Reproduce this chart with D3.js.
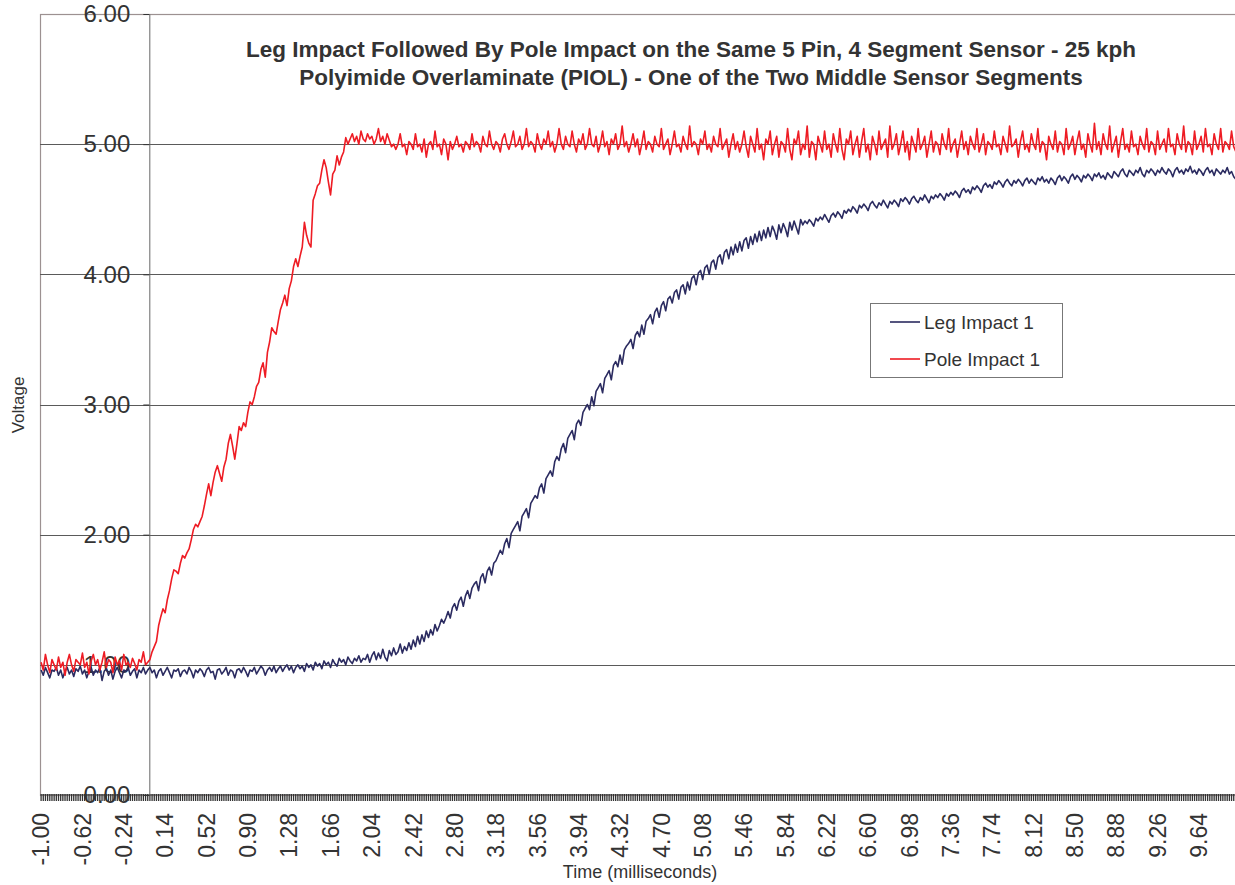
<!DOCTYPE html>
<html>
<head>
<meta charset="utf-8">
<title>Leg Impact Followed By Pole Impact</title>
<script src="https://d3js.org/d3.v7.min.js"></script>
<style>
    body { margin: 0; background: #fff; }
    svg { display: block; font-family: "Liberation Sans", Arial, sans-serif; }
</style>
</head>
<body>
<svg id="chart"></svg>
<script>
// x axis labels (every 19th category, 0.02 ms steps)
const tickLabels = ["-1.00","-0.62","-0.24","0.14","0.52","0.90","1.28","1.66","2.04","2.42",
    "2.80","3.18","3.56","3.94","4.32","4.70","5.08","5.46","5.84","6.22","6.60","6.98",
    "7.36","7.74","8.12","8.50","8.88","9.26","9.64"];
const yTicks = [0, 1, 2, 3, 4, 5, 6];
const seriesNames = ["Leg Impact 1", "Pole Impact 1"];

const legImpact = [
0.96,0.92,0.98,0.94,0.90,0.96,0.95,0.98,0.92,0.96,0.90,0.95,0.98,0.93,0.96,0.91,0.97,0.95,0.99,0.93,
0.96,0.90,0.95,0.98,0.92,0.96,0.94,0.98,0.88,0.95,0.97,0.92,0.96,0.89,0.95,0.98,0.94,0.90,0.96,0.95,
0.98,0.92,0.95,0.97,0.90,0.96,0.94,0.98,0.93,0.96,
0.98,0.94,0.96,0.90,0.95,0.97,0.92,0.95,0.98,0.94,0.90,0.96,0.95,0.97,0.91,0.95,0.96,0.93,0.98,0.95,
0.90,0.96,0.94,0.97,0.95,0.91,0.96,0.98,0.94,0.95,0.89,0.96,0.97,0.93,0.95,0.98,0.92,0.96,0.95,0.90,
0.96,0.97,0.94,0.98,0.95,0.91,0.96,0.95,0.98,0.93,0.96,0.99,0.97,0.92,0.96,0.98,0.95,0.99,0.94,0.97,
0.99,0.95,0.98,1.00,0.96,0.99,0.94,0.98,1.00,0.97,0.99,0.95,1.01,0.98,1.00,0.96,1.02,0.99,1.01,0.97,
1.03,1.00,1.02,0.98,1.04,1.01,0.99,1.05,1.02,1.04,1.00,1.06,1.03,1.01,1.05,1.03,1.07,1.02,1.05,1.04,
1.08,1.02,1.07,1.10,1.04,1.09,1.05,1.12,1.06,1.03,1.11,1.07,1.13,1.08,1.10,1.16,1.09,1.14,1.11,1.17,
1.12,1.19,1.14,1.22,1.16,1.23,1.18,1.26,1.21,1.27,1.23,1.31,1.26,1.30,1.35,1.32,1.36,1.41,1.36,1.44,
1.47,1.42,1.49,1.52,1.45,1.53,1.57,1.51,1.59,1.62,1.64,1.57,1.67,1.70,1.63,1.72,1.75,1.69,1.78,1.80,
1.84,1.88,1.85,1.93,1.97,1.90,2.01,2.04,2.07,2.10,2.03,2.14,2.17,2.20,2.13,2.24,2.27,2.30,2.28,2.36,
2.39,2.32,2.43,2.46,2.49,2.45,2.56,2.60,2.57,2.66,2.70,2.63,2.74,2.77,2.80,2.73,2.85,2.88,2.84,2.94,
2.97,3.00,2.96,3.06,2.99,3.10,3.13,3.16,3.09,3.20,3.23,3.26,3.19,3.30,3.33,3.29,3.38,3.31,3.42,3.45,
3.47,3.50,3.43,3.53,3.56,3.52,3.61,3.54,3.64,3.66,3.69,3.62,3.71,3.74,3.67,3.76,3.79,3.72,3.81,3.83,
3.78,3.86,3.88,3.81,3.90,3.92,3.85,3.94,3.88,3.97,3.99,3.92,4.01,4.03,3.96,4.05,4.07,4.00,4.09,4.11,
4.04,4.13,4.15,4.08,4.17,4.19,4.12,4.21,4.15,4.23,4.17,4.25,4.18,4.26,4.28,4.20,4.29,4.23,4.31,4.25,
4.33,4.26,4.34,4.28,4.36,4.29,4.37,4.33,4.27,4.38,4.32,4.39,4.35,4.29,4.40,4.34,4.41,4.36,4.31,4.42,
4.38,4.41,4.39,4.42,4.40,4.37,4.43,4.41,4.44,4.42,4.46,4.43,4.40,4.45,4.47,4.44,4.48,4.46,4.43,4.49,
4.47,4.50,4.48,4.52,4.50,4.47,4.53,4.51,4.54,4.52,4.49,4.54,4.56,4.53,4.51,4.55,4.53,4.57,4.54,4.51,
4.56,4.54,4.57,4.55,4.52,4.58,4.56,4.59,4.57,4.54,4.58,4.60,4.57,4.55,4.59,4.57,4.61,4.58,4.55,4.60,
4.58,4.61,4.59,4.62,4.60,4.57,4.62,4.60,4.63,4.61,4.64,4.62,4.59,4.64,4.66,4.63,4.65,4.62,4.67,4.65,
4.68,4.66,4.63,4.68,4.70,4.67,4.69,4.66,4.71,4.69,4.72,4.70,4.67,4.71,4.73,4.70,4.68,4.72,4.70,4.73,
4.71,4.68,4.72,4.74,4.70,4.73,4.71,4.69,4.74,4.72,4.75,4.71,4.73,4.70,4.74,4.72,4.69,4.74,4.76,4.72,
4.75,4.73,4.70,4.75,4.77,4.73,4.76,4.74,4.71,4.76,4.74,4.77,4.75,4.72,4.77,4.75,4.78,4.74,4.76,4.73,
4.78,4.76,4.74,4.79,4.77,4.75,4.79,4.81,4.77,4.75,4.80,4.78,4.76,4.80,4.78,4.82,4.77,4.75,4.80,4.78,
4.81,4.79,4.76,4.80,4.78,4.82,4.79,4.77,4.81,4.79,4.75,4.80,4.82,4.78,4.80,4.77,4.81,4.79,4.83,4.78,
4.80,4.77,4.81,4.79,4.76,4.80,4.82,4.78,4.80,4.76,4.81,4.79,4.77,4.80,4.78,4.82,4.77,4.79,4.75,4.73
];

const poleImpact = [
1.02,0.96,1.08,1.00,0.94,1.04,1.00,0.96,1.06,0.98,1.02,0.92,1.02,1.08,1.00,0.95,1.04,1.02,1.00,1.09,
0.98,1.02,0.93,1.03,1.08,1.00,1.04,0.96,1.02,1.10,0.98,1.04,1.02,0.94,1.06,1.00,1.03,0.96,1.08,1.00,
1.02,0.98,1.05,1.01,0.96,1.04,1.02,1.10,1.00,1.02,1.04,1.10,1.14,1.18,1.30,1.37,1.43,1.40,1.50,1.57,
1.66,1.73,1.72,1.70,1.78,1.84,1.82,1.86,1.89,1.96,2.04,2.08,2.06,2.10,2.14,2.22,2.31,2.39,2.30,2.40,
2.48,2.53,2.47,2.41,2.52,2.58,2.70,2.77,2.68,2.58,2.70,2.83,2.80,2.86,2.83,2.94,3.02,3.00,3.06,3.14,
3.17,3.27,3.32,3.21,3.40,3.48,3.59,3.56,3.54,3.64,3.73,3.78,3.84,3.76,3.89,3.95,4.06,4.12,4.06,4.14,
4.21,4.40,4.30,4.24,4.21,4.57,4.62,4.68,4.70,4.80,4.88,4.82,4.71,4.61,4.77,4.80,4.91,4.84,4.90,4.94,
5.05,5.00,
5.04,5.08,5.02,5.06,5.00,5.10,5.04,5.02,5.08,5.04,5.06,5.00,5.04,5.12,5.02,5.06,5.00,5.08,5.03,4.98,
5.00,4.96,5.00,5.08,4.98,5.00,4.92,5.02,5.00,4.96,5.08,4.98,5.00,4.94,5.04,4.90,5.00,5.02,4.96,5.10,
4.98,5.00,4.92,5.04,5.00,4.88,5.02,4.96,5.00,5.06,4.98,5.00,4.94,5.02,5.00,4.96,5.08,4.98,5.02,5.00,
4.94,5.06,5.00,4.98,5.10,5.00,4.96,5.02,5.00,4.94,5.04,5.08,5.00,4.96,5.02,5.10,4.98,5.00,5.06,4.96,
5.00,5.12,4.98,5.02,5.00,4.94,5.08,5.00,4.96,5.04,5.00,5.10,4.98,5.02,4.94,5.00,5.12,5.00,4.96,5.06,
5.00,4.98,5.10,5.00,4.94,5.04,5.00,5.08,4.96,5.00,5.12,5.00,4.98,5.06,4.94,5.00,5.10,4.98,5.02,4.92,
5.04,5.00,5.08,4.96,5.00,5.14,4.98,5.02,4.94,5.00,5.08,4.98,5.04,4.92,5.00,5.10,4.96,5.02,5.00,4.94,
5.06,5.00,4.98,5.12,4.96,5.00,5.04,4.92,5.00,5.10,4.98,5.00,4.94,5.06,5.00,4.96,5.14,4.98,5.02,5.00,
4.92,5.04,5.00,5.10,4.96,5.00,4.94,5.06,5.00,4.98,5.12,4.96,5.00,5.04,4.90,5.00,5.08,4.96,5.02,4.94,
5.00,5.10,4.98,4.90,5.06,5.00,4.94,5.12,4.96,5.00,4.88,5.04,5.00,5.10,4.92,5.00,5.06,4.90,5.02,5.00,
4.94,5.12,4.96,4.88,5.04,5.00,5.10,4.92,5.00,4.96,5.14,4.90,5.02,5.00,4.88,5.06,5.00,4.94,5.10,4.96,
5.00,4.90,5.08,5.00,4.94,5.12,4.96,4.88,5.04,5.00,5.10,4.92,5.00,5.06,4.90,5.02,5.12,4.94,5.00,4.88,
5.06,5.00,4.92,5.10,4.96,5.00,5.04,4.90,5.14,4.96,5.00,5.08,4.92,5.00,5.10,4.94,5.02,4.88,5.06,5.00,
4.94,5.12,4.96,5.00,5.06,4.90,5.00,5.10,4.94,5.02,5.00,4.92,5.08,5.00,4.96,5.12,4.94,5.00,5.04,4.90,
5.00,5.10,4.96,5.02,4.92,5.06,5.00,4.96,5.12,4.94,5.00,5.08,4.92,5.02,5.00,4.96,5.10,4.98,5.00,4.92,
5.06,5.00,4.94,5.14,4.98,5.00,5.04,4.90,5.02,5.10,4.96,5.00,4.94,5.08,5.00,4.96,5.12,4.94,5.02,5.00,
4.88,5.06,5.00,4.96,5.10,4.94,5.02,5.00,4.92,5.12,4.96,5.00,5.06,4.92,5.02,5.10,4.96,5.00,4.90,5.08,
5.00,4.94,5.16,4.96,5.02,4.92,5.08,5.00,4.96,5.14,4.94,5.00,5.06,4.90,5.02,5.12,4.96,5.00,4.94,5.10,
4.98,5.00,4.92,5.06,5.00,4.96,5.12,4.94,5.02,5.00,4.92,5.10,4.96,5.00,5.04,4.94,5.12,4.98,5.00,4.92,
5.08,5.00,4.96,5.14,4.94,5.02,5.00,4.92,5.10,4.96,5.00,5.06,4.94,5.12,4.98,5.00,4.92,5.08,5.00,4.96,
5.12,4.94,5.02,5.00,4.96,5.10,4.98,4.94
];

const width = 1235, height = 885;
const plot = { left: 40, right: 1237, top: 14, bottom: 795 };

// category labels: time in ms, 0.02 ms apart starting at -1.00
const n = Math.max(legImpact.length, poleImpact.length);
const times = d3.range(n).map(i => ((i * 2 - 100) / 100).toFixed(2));

const svg = d3.select("#chart")
    .attr("width", width)
    .attr("height", height);

const x = d3.scaleBand()
    .domain(times)
    .range([plot.left, plot.right]);

const y = d3.scaleLinear()
    .domain([0, 6])
    .range([plot.bottom, plot.top]);

// plot frame
svg.append("rect")
    .attr("x", plot.left + 0.5)
    .attr("y", plot.top + 0.5)
    .attr("width", plot.right - plot.left)
    .attr("height", plot.bottom - plot.top)
    .attr("fill", "none")
    .attr("stroke", "#9c9191")
    .attr("stroke-width", 1.2);

// gridlines
svg.append("g")
    .selectAll("line")
    .data(yTicks.filter(d => d > 0 && d < 6))
    .enter()
    .append("line")
    .attr("x1", plot.left)
    .attr("x2", plot.right)
    .attr("y1", d => Math.round(y(d)) + 0.5)
    .attr("y2", d => Math.round(y(d)) + 0.5)
    .attr("stroke", "#5a5a5a")
    .attr("stroke-width", 1);

// dense category tick marks along the bottom
const xAxis = svg.append("g")
    .attr("transform", `translate(0, ${plot.bottom - 1})`)
    .call(d3.axisBottom(x).tickSize(7).tickSizeOuter(0).tickFormat(""));
xAxis.select(".domain").attr("stroke", "#999");
xAxis.selectAll(".tick line").attr("stroke", "#333").attr("stroke-width", 1.3);

// x labels
const xLabels = svg.append("g")
    .attr("transform", `translate(0, ${plot.bottom})`)
    .call(d3.axisBottom(x)
        .tickValues(times.filter(t => tickLabels.includes(t)))
        .tickSize(0));
xLabels.select(".domain").remove();
xLabels.selectAll("text")
    .attr("transform", "rotate(-90)")
    .attr("x", -18)
    .attr("y", 0)
    .attr("dy", "0.36em")
    .style("text-anchor", "end")
    .style("font-size", "23px")
    .style("font-family", "'Liberation Sans', Arial, sans-serif")
    .attr("fill", "#333");

// y axis crossing at time 0
const yAxisX = x("0.00");
const yAxis = svg.append("g")
    .attr("transform", `translate(${yAxisX + 0.5}, 0)`)
    .call(d3.axisLeft(y)
        .tickValues(yTicks)
        .tickSize(6)
        .tickSizeOuter(0)
        .tickPadding(13)
        .tickFormat(d3.format(".2f")));
yAxis.select(".domain").attr("stroke", "#666");
yAxis.selectAll(".tick line").attr("stroke", "#333");
yAxis.selectAll("text")
    .style("font-size", "24px")
    .style("font-family", "'Liberation Sans', Arial, sans-serif")
    .attr("fill", "#333");

// series
const colors = ["#2b2b60", "#ee1c24"];
const line = d3.line()
    .x((d, i) => x(times[i]) + x.bandwidth() / 2)
    .y(d => y(d));

[legImpact, poleImpact].forEach((data, k) => {
    svg.append("path")
        .datum(data)
        .attr("fill", "none")
        .attr("stroke", colors[k])
        .attr("stroke-width", 1.6)
        .attr("stroke-linejoin", "round")
        .attr("d", line);
});

// title
const title = svg.append("text")
    .attr("x", 691)
    .attr("text-anchor", "middle")
    .style("font-size", "22.5px")
    .style("font-weight", "bold")
    .attr("fill", "#333");
title.append("tspan").attr("x", 691).attr("y", 57)
    .text("Leg Impact Followed By Pole Impact on the Same 5 Pin, 4 Segment Sensor - 25 kph");
title.append("tspan").attr("x", 691).attr("y", 85)
    .text("Polyimide Overlaminate (PIOL) - One of the Two Middle Sensor Segments");

// axis titles
svg.append("text")
    .attr("x", 640)
    .attr("y", 878)
    .attr("text-anchor", "middle")
    .style("font-size", "18px")
    .attr("fill", "#333")
    .text("Time (milliseconds)");

svg.append("text")
    .attr("transform", "translate(24, 405) rotate(-90)")
    .attr("text-anchor", "middle")
    .style("font-size", "17px")
    .attr("fill", "#333")
    .text("Voltage");

// legend
const legend = svg.append("g").attr("transform", "translate(870, 303)");
legend.append("rect")
    .attr("x", 0.5)
    .attr("y", 0.5)
    .attr("width", 192)
    .attr("height", 74)
    .attr("fill", "#fff")
    .attr("stroke", "#777");

const items = legend.selectAll(".legend-item")
    .data(seriesNames)
    .enter()
    .append("g")
    .attr("class", "legend-item")
    .attr("transform", (d, i) => `translate(0, ${19 + i * 37})`);

items.append("line")
    .attr("x1", 20)
    .attr("x2", 50)
    .attr("stroke", (d, i) => colors[i])
    .attr("stroke-width", 1.6);

items.append("text")
    .attr("x", 54)
    .attr("dy", "0.35em")
    .style("font-size", "19px")
    .attr("fill", "#333")
    .text(d => d);
</script>
</body>
</html>
